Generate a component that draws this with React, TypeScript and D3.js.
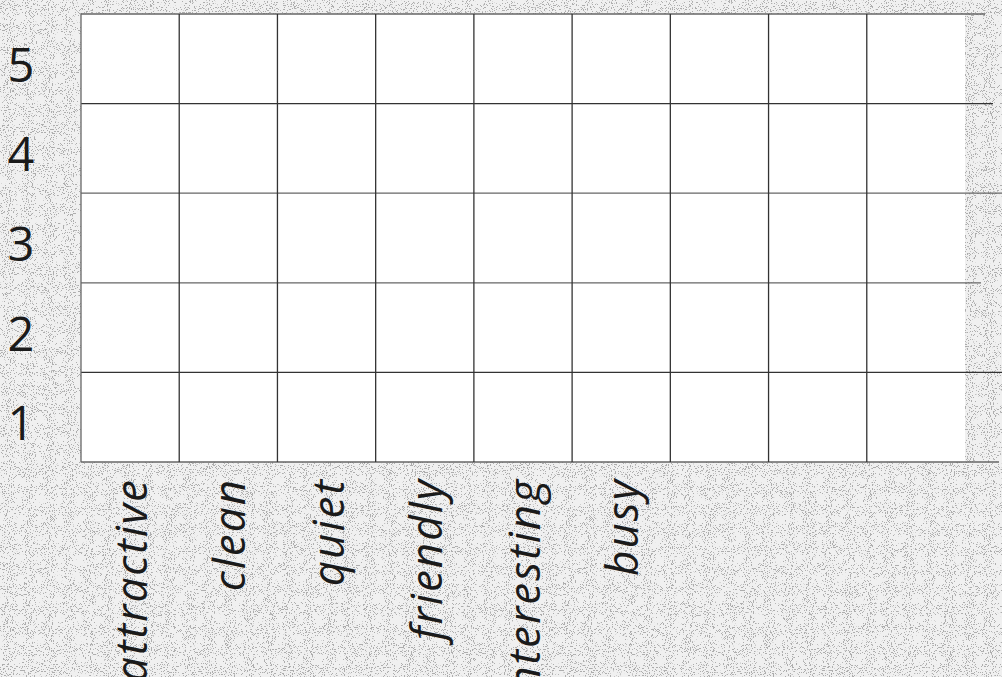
import React from 'react';
import * as d3 from 'd3';

// categories along the bottom (last three columns are left blank)
const categories = ['attractive', 'clean', 'quiet', 'friendly', 'interesting', 'busy', '', '', ''];
const yTicks = [1, 2, 3, 4, 5];

const W = 1002;
const H = 677;
const margin = { top: 14, left: 81, bottom: 215 };
const plotRight = 965;
// how far each horizontal rule runs past the white panel (bottom to top)
const ruleEnds = [999, 1002, 981, 1002, 993, 985];

function App() {
  const colW = (plotRight - margin.left) / categories.length;
  const x = d3.scaleBand<number>()
    .domain(d3.range(categories.length))
    .range([margin.left, margin.left + colW * categories.length]);

  const y = d3.scaleLinear()
    .domain([0, 5])
    .range([H - margin.bottom, margin.top]);

  const rows = d3.range(0, 6);

  return (
    <div style={{ position: 'fixed', left: 0, top: 0 }}>
      <svg width={W} height={H} style={{ display: 'block' }}>
        <defs>
          <filter id="grain" x="0" y="0" width="100%" height="100%">
            <feTurbulence type="fractalNoise" baseFrequency="0.95" numOctaves="2" seed="4" result="n" />
            <feColorMatrix type="matrix" in="n"
              values="0 0 0 0 0.42  0 0 0 0 0.42  0 0 0 0 0.42  -22 0 0 0 8.8" />
          </filter>
        </defs>
        <rect width={W} height={H} fill="#f0f0f0" />
        <rect width={W} height={H} filter="url(#grain)" />

        {/* white panel */}
        <rect x={margin.left} y={y(5)} width={plotRight - margin.left} height={y(0) - y(5)} fill="#fff" />

        {/* horizontal rules */}
        {rows.map((r, i) => (
          <line key={'h' + r}
            x1={margin.left} x2={ruleEnds[i]}
            y1={y(r)} y2={y(r)}
            stroke={r === 0 || r === 5 || r === 2 || r === 3 ? '#666' : '#333'}
            strokeWidth={1.3} />
        ))}

        {/* vertical rules */}
        {categories.map((c, i) => (
          <line key={'v' + i}
            x1={x(i)!} x2={x(i)!}
            y1={y(5)} y2={y(0)}
            stroke={i === 0 ? '#666' : '#333'}
            strokeWidth={1.3} />
        ))}

        {/* y labels */}
        {yTicks.map(t => (
          <text key={'y' + t}
            x={21} y={(y(t) + y(t - 1)) / 2 + 5}
            textAnchor="middle" dominantBaseline="central"
            fontFamily="'Open Sans', sans-serif" fontSize={47} fill="#1a1a1a">
            {t}
          </text>
        ))}

        {/* x labels */}
        {categories.map((c, i) => c && (
          <text key={'x' + i}
            transform={`translate(${x(i)! + x.bandwidth() / 2},${y(0) + 16}) rotate(-90)`}
            textAnchor="end" dominantBaseline="central"
            fontFamily="'Open Sans', sans-serif" fontStyle="italic" fontSize={44}
            letterSpacing={2} fill="#1a1a1a">
            {c}
          </text>
        ))}
      </svg>
    </div>
  );
}

export default App;
